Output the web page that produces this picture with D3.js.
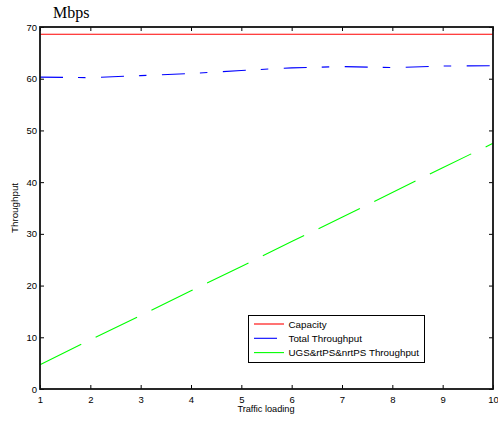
<!DOCTYPE html>
<html>
<head>
<meta charset="utf-8">
<script src="https://cdn.jsdelivr.net/npm/d3@7"></script>
<style>
  html, body { margin: 0; padding: 0; background: #fff; }
  svg { display: block; }
</style>
</head>
<body>
<svg id="chart" width="498" height="424"></svg>
<script>
// Traffic load levels on the x axis
const trafficLoading = [1, 2, 3, 4, 5, 6, 7, 8, 9, 10];

// Throughput series (Mbps)
const capacity = [68.6, 68.6, 68.6, 68.6, 68.6, 68.6, 68.6, 68.6, 68.6, 68.6];
const totalThroughput = [60.3, 60.2, 60.6, 61.0, 61.6, 62.1, 62.35, 62.15, 62.45, 62.5];
const ugsThroughput = [4.7, 9.5, 14.2, 19.0, 23.7, 28.5, 33.2, 38.0, 42.8, 47.5];

const xTicks = [1, 2, 3, 4, 5, 6, 7, 8, 9, 10];
const yTicks = [0, 10, 20, 30, 40, 50, 60, 70];

const seriesNames = ["Capacity", "Total Throughput", "UGS&rtPS&nrtPS Throughput"];
const seriesColors = ["#ff0000", "#0000ff", "#00ff00"];
const seriesDashes = [null, "23,15,7.5,15.5", "46,16"];

const svg = d3.select("#chart");
const plotLeft = 40, plotRight = 493, plotTop = 27, plotBottom = 389;

const x = d3.scaleLinear().domain([1, 10]).range([plotLeft, plotRight]);
const y = d3.scaleLinear().domain([0, 70]).range([plotBottom, plotTop]);

const tickFont = "Liberation Sans, Arial, sans-serif";

// Data lines
const series = [capacity, totalThroughput, ugsThroughput];
const line = d3.line().x((d, i) => x(trafficLoading[i])).y(d => y(d));
series.forEach((s, k) => {
  svg.append("path")
    .datum(s)
    .attr("fill", "none")
    .attr("stroke", seriesColors[k])
    .attr("stroke-width", 1.1)
    .attr("stroke-dasharray", seriesDashes[k])
    .attr("d", line);
});

// Axes: ticks point inward on all four sides
const tickLen = 4;
const gBottom = svg.append("g").attr("transform", `translate(0,${plotBottom})`)
  .call(d3.axisBottom(x).tickValues(xTicks).tickSizeInner(-tickLen).tickSizeOuter(0).tickPadding(7).tickFormat(d3.format("d")));
const gTop = svg.append("g").attr("transform", `translate(0,${plotTop})`)
  .call(d3.axisTop(x).tickValues(xTicks).tickSizeInner(-tickLen).tickSizeOuter(0).tickFormat(""));
const gLeft = svg.append("g").attr("transform", `translate(${plotLeft},0)`)
  .call(d3.axisLeft(y).tickValues(yTicks).tickSizeInner(-tickLen).tickSizeOuter(0).tickPadding(3).tickFormat(d3.format("d")));
const gRight = svg.append("g").attr("transform", `translate(${plotRight},0)`)
  .call(d3.axisRight(y).tickValues(yTicks).tickSizeInner(-tickLen).tickSizeOuter(0).tickFormat(""));

[gBottom, gTop, gLeft, gRight].forEach(g => {
  g.select(".domain").remove();
  g.selectAll(".tick line").attr("stroke", "#000").attr("stroke-width", 1);
  g.selectAll(".tick text").attr("fill", "#000").style("font-family", tickFont).style("font-size", "9.5px");
});

// Plot frame
svg.append("rect")
  .attr("x", plotLeft).attr("y", plotTop)
  .attr("width", plotRight - plotLeft).attr("height", plotBottom - plotTop)
  .attr("fill", "none").attr("stroke", "#111").attr("stroke-width", 1.8);

// Axis titles
svg.append("text")
  .attr("x", 266).attr("y", 412)
  .attr("text-anchor", "middle")
  .style("font-family", tickFont).style("font-size", "9.2px")
  .text("Traffic loading");

svg.append("text")
  .attr("transform", `translate(18,${(plotTop + plotBottom) / 2}) rotate(-90)`)
  .attr("text-anchor", "middle")
  .style("font-family", tickFont).style("font-size", "9.8px")
  .text("Throughput");

svg.append("text")
  .attr("x", 53).attr("y", 17.5)
  .style("font-family", "Liberation Serif, Times New Roman, serif").style("font-size", "16px")
  .text("Mbps");

// Legend (samples use each series' dash pattern)
const legend = svg.append("g");
legend.append("rect")
  .attr("x", 248.5).attr("y", 315.5).attr("width", 176).attr("height", 47)
  .attr("fill", "#fff").attr("stroke", "#000").attr("stroke-width", 1);
seriesNames.forEach((name, k) => {
  const ly = 324 + k * 14.3;
  legend.append("line")
    .attr("x1", 254).attr("x2", 284).attr("y1", ly).attr("y2", ly)
    .attr("stroke", seriesColors[k]).attr("stroke-width", 1.1)
    .attr("stroke-dasharray", seriesDashes[k]);
  legend.append("text")
    .attr("x", 288.5).attr("y", ly + 3.5)
    .style("font-family", tickFont).style("font-size", "9.8px")
    .text(name);
});
</script>
</body>
</html>
